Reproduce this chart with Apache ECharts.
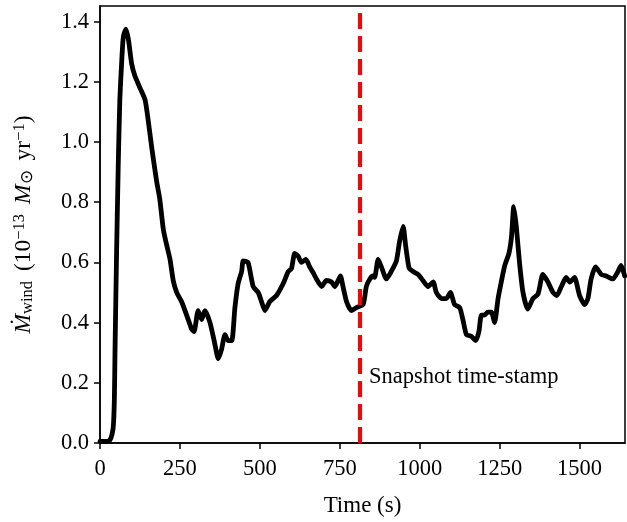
<!DOCTYPE html>
<html>
<head>
<meta charset="utf-8">
<script src="https://cdn.jsdelivr.net/npm/echarts@6/dist/echarts.min.js"></script>
<style>
html,body{margin:0;padding:0;background:#fff;}
#c{width:627px;height:522px;}
</style>
</head>
<body>
<div id="c"></div>
<script>
// Time (s)
var times = [0,20,31,38,42,45,47,52,57,62,68,73,81,89,99,109,125,141,151,162,177,187,198,208,219,229,240,255,276,286,294,307,318,328,344,359,370,380,391,401,412,422,432,443,448,463,479,495,505,516,531,552,573,589,599,609,620,630,644,656,667,677,693,708,724,734,745,752,760,771,786,802,823,833,844,854,859,870,880,896,911,927,937,948,956,967,979,995,1010,1026,1042,1052,1068,1083,1096,1109,1125,1135,1146,1161,1175,1185,1193,1203,1213,1224,1234,1245,1255,1266,1279,1287,1294,1302,1312,1323,1338,1354,1370,1385,1401,1417,1429,1443,1458,1469,1484,1500,1516,1526,1536,1550,1568,1583,1604,1620,1630,1641];
// Mdot_wind (1e-13 Msun/yr)
var mdot = [0.005,0.005,0.01,0.03,0.06,0.15,0.31,0.64,0.92,1.14,1.27,1.35,1.375,1.34,1.26,1.22,1.18,1.14,1.07,0.98,0.87,0.81,0.71,0.66,0.61,0.54,0.50,0.47,0.41,0.38,0.37,0.44,0.41,0.44,0.40,0.33,0.28,0.31,0.36,0.34,0.34,0.45,0.53,0.57,0.605,0.60,0.52,0.50,0.47,0.44,0.47,0.49,0.53,0.57,0.58,0.63,0.62,0.60,0.61,0.585,0.565,0.545,0.52,0.54,0.535,0.52,0.54,0.555,0.52,0.47,0.44,0.45,0.46,0.52,0.545,0.555,0.55,0.61,0.585,0.545,0.57,0.605,0.67,0.72,0.655,0.58,0.57,0.56,0.54,0.52,0.535,0.50,0.48,0.48,0.50,0.46,0.45,0.41,0.36,0.355,0.34,0.37,0.425,0.425,0.435,0.435,0.40,0.48,0.535,0.59,0.63,0.685,0.785,0.72,0.60,0.50,0.445,0.48,0.495,0.56,0.535,0.50,0.49,0.52,0.55,0.535,0.55,0.49,0.46,0.48,0.545,0.585,0.56,0.555,0.545,0.57,0.59,0.555];
var xTicks = [0,250,500,750,1000,1250,1500];
var yTicks = [0,0.2,0.4,0.6,0.8,1.0,1.2,1.4];
var snapshotTime = 813;
var snapshotLabel = 'Snapshot time-stamp';
var snapshotLabelPos = [826, 0.22];

var data = times.map(function(t,i){return [t, mdot[i]];});
var FONT = '"Liberation Serif", "Times New Roman", serif';
var chart = echarts.init(document.getElementById('c'), null, {renderer:'canvas'});
chart.setOption({
  animation:false,
  backgroundColor:'#fff',
  grid:{left:100,right:2,top:6,bottom:77,show:true,borderColor:'#000',borderWidth:1.5,backgroundColor:'transparent'},
  xAxis:{
    type:'value',min:0,max:1642,
    name:'Time (s)',nameLocation:'middle',nameGap:51,
    nameTextStyle:{fontFamily:FONT,fontSize:23,color:'#000'},
    axisLine:{show:true,lineStyle:{color:'#000',width:1.5}},
    axisTick:{show:true,inside:false,length:6,lineStyle:{color:'#000',width:1.5},customValues:xTicks},
    axisLabel:{show:true,fontFamily:FONT,fontSize:22.5,color:'#000',margin:15,customValues:xTicks,
      formatter:function(v){return String(v);}},
    splitLine:{show:false}
  },
  yAxis:{
    type:'value',min:0,max:1.452,
    name:'{it|Ṁ}{sub|wind}{sp| }({n|10}{sup|−13}{sp| }{it|M}{sub|⊙}{sp| }{n|yr}{sup|−1}{n|)}',
    nameLocation:'middle',nameGap:64,nameRotate:90,
    nameTextStyle:{fontFamily:FONT,fontSize:23,color:'#000',
      rich:{
        it:{fontFamily:FONT,fontSize:23.5,fontStyle:'italic',color:'#000'},
        n:{fontFamily:FONT,fontSize:23.5,color:'#000'},
        sp:{fontFamily:FONT,fontSize:23.5,color:'#000',width:10},
        sub:{fontFamily:FONT,fontSize:16.5,color:'#000',verticalAlign:'bottom',padding:[6,0,0,0]},
        sup:{fontFamily:FONT,fontSize:16.5,color:'#000',verticalAlign:'top',padding:[0,0,8,0]}
      }},
    axisLine:{show:true,lineStyle:{color:'#000',width:1.5}},
    axisTick:{show:true,inside:false,length:6,lineStyle:{color:'#000',width:1.5},customValues:yTicks},
    axisLabel:{show:true,fontFamily:FONT,fontSize:22.5,color:'#000',margin:11,customValues:yTicks,
      formatter:function(v){return v.toFixed(1);}},
    splitLine:{show:false}
  },
  series:[{
    type:'line',data:data,showSymbol:false,smooth:0.2,clip:true,
    lineStyle:{color:'#000',width:4.8,join:'round',cap:'round'},
    markLine:{
      silent:true,symbol:['none','none'],
      label:{show:false},
      lineStyle:{color:'#ff0000',width:4,type:[16,7]},
      data:[{xAxis:snapshotTime}]
    },
    markPoint:{
      silent:true,symbol:'circle',symbolSize:0,
      data:[{coord:snapshotLabelPos,value:snapshotLabel}],
      label:{show:true,position:'right',distance:5,formatter:'{c}',fontFamily:FONT,fontSize:22.5,color:'#000'}
    }
  }]
});
</script>
</body>
</html>
